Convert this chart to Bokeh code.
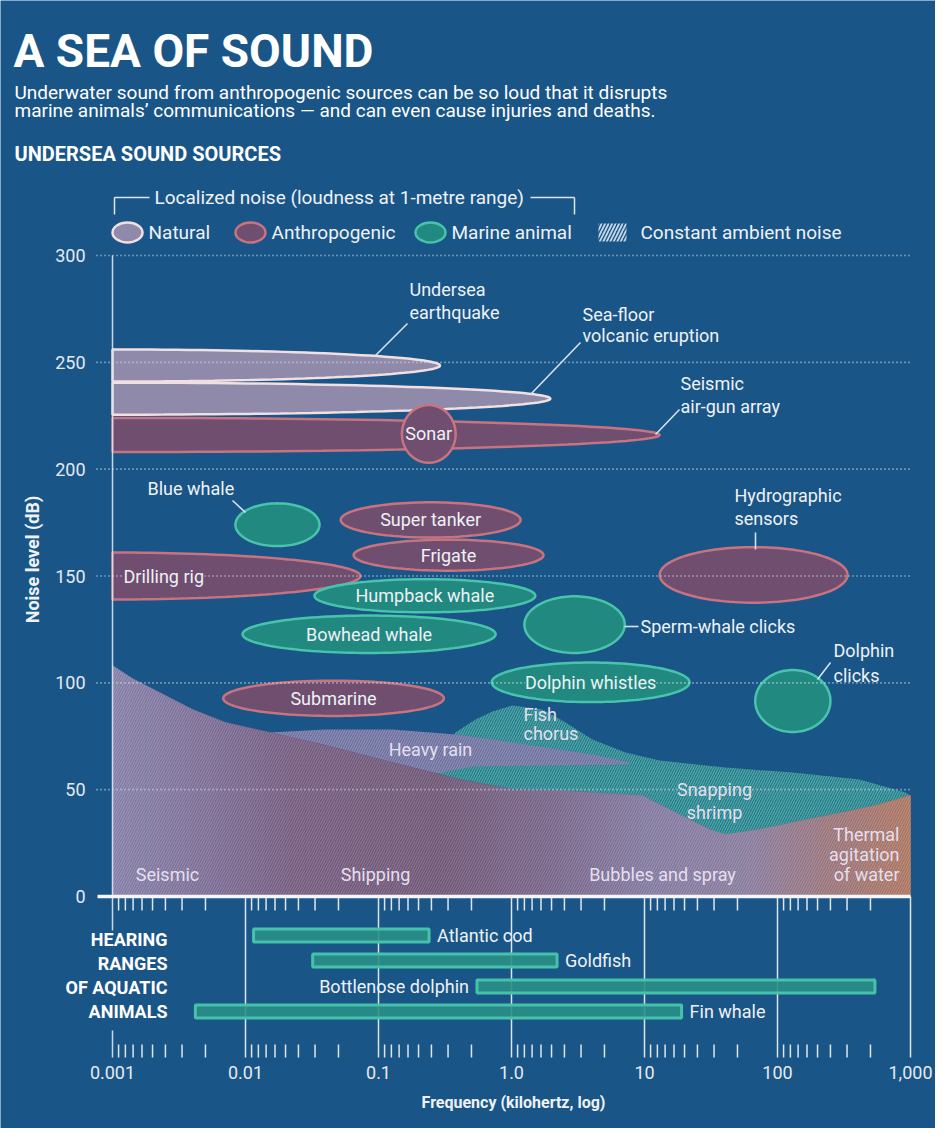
import numpy as np
from bokeh.plotting import figure
from bokeh.models import Label, Range1d
from bokeh.core.properties import value
from bokeh.embed import file_html
from bokeh.resources import INLINE

# ------------------------------------------------------------------ data
# Localized noise sources: frequency span (kHz) and loudness span (dB at 1 m)
SRC_NAMES = ["Undersea earthquake", "Sea-floor volcanic eruption", "Seismic air-gun array",
             "Sonar", "Blue whale", "Super tanker", "Frigate", "Drilling rig",
             "Hydrographic sensors", "Humpback whale", "Bowhead whale", "Sperm-whale clicks",
             "Dolphin whistles", "Dolphin clicks", "Submarine"]
SRC_KIND = ["natural", "natural", "anthro", "anthro", "marine", "anthro", "anthro", "anthro",
            "anthro", "marine", "marine", "marine", "marine", "marine", "anthro"]
SRC_F_LO = [0.001, 0.001, 0.001, 0.15, 0.0084, 0.052, 0.065, 0.001,
            13.0, 0.033, 0.0095, 1.25, 0.71, 68.0, 0.0068]
SRC_F_HI = [0.29, 1.96, 13.0, 0.38, 0.036, 1.17, 1.74, 0.073,
            336.0, 1.51, 0.76, 7.1, 21.8, 250.0, 0.31]
SRC_DB_LO = [241, 225.5, 208, 203, 164, 168, 152.5, 139, 137.5, 133, 114, 114, 91, 77, 84.5]
SRC_DB_HI = [256, 240.5, 224, 230, 184, 184.5, 167, 161, 163.5, 148.5, 131.5, 140.5, 109.5, 106, 101]
# sources that start at the lowest frequency shown are drawn as half shapes
SRC_HALF = [True, True, True, False, False, False, False, True,
            False, False, False, False, False, False, False]
SRC_LABEL = ["leader", "leader", "leader", "centre", "leader", "centre", "centre", "left",
             "leader", "centre", "centre", "leader", "centre", "leader", "centre"]

# Constant ambient noise (upper boundary of each band)
AMB_MAIN_F = [0.001, 0.00141, 0.00225, 0.0040, 0.00708, 0.0151, 0.040, 0.127, 0.406, 1.02,
              2.30, 9.66, 17.1, 30.8, 40.6, 73.3, 130, 308, 546, 1000]
AMB_MAIN_DB = [108.1, 102.0, 95.5, 87.5, 81.4, 76.8, 70.7, 62.7, 54.8, 50.1,
               49.6, 47.2, 39.3, 31.4, 29.0, 31.4, 34.6, 39.3, 42.6, 47.3]
AMB_BIO_F = [0.255, 0.379, 0.536, 0.719, 1.02, 1.71, 2.55, 4.06, 7.20, 13.0,
             40.6, 130, 414, 916, 1000]
AMB_BIO_DB = [58.0, 76.8, 82.8, 86.6, 89.4, 87.5, 81.4, 73.5, 67.4, 63.6,
              60.4, 58.0, 54.8, 48.7, 47.3]
AMB_RAIN_F = [0.0151, 0.040, 0.127, 0.379, 0.719, 2.03, 4.06, 7.71,
              7.71, 2.03, 0.509, 0.127, 0.0151]
AMB_RAIN_DB = [76.8, 78.2, 78.2, 75.8, 73.5, 69.3, 66.5, 62.7,
               61.8, 61.3, 60.8, 53.4, 53.4]

# Hearing ranges of aquatic animals (kHz)
HEAR_NAMES = ["Atlantic cod", "Goldfish", "Bottlenose dolphin", "Fin whale"]
HEAR_F_LO = [0.0115, 0.032, 0.55, 0.0042]
HEAR_F_HI = [0.24, 2.2, 540.0, 19.0]
HEAR_LABEL_SIDE = ["right", "right", "left", "right"]

# Axes
Y_TICKS = [0, 50, 100, 150, 200, 250, 300]
Y_TICK_LABELS = ["0", "50", "100", "150", "200", "250", "300"]
X_TICKS = [0.001, 0.01, 0.1, 1, 10, 100, 1000]
X_TICK_LABELS = ["0.001", "0.01", "0.1", "1.0", "10", "100", "1,000"]
# the graphic draws its minor ticks mirrored inside each decade
X_MINOR = [d * 10 / m for d in X_TICKS[:-1] for m in range(2, 10)]

# ------------------------------------------------------------------ layout helpers
X0_PX, DEC_PX = 120.0, 133.0          # page x of 0.001 kHz, pixels per decade
Y0_PX, DB_PX = 904.0, 641.0 / 300.0   # page y of 0 dB, pixels per dB


def fx(px):
    return 10 ** (-3 + (px - X0_PX) / DEC_PX)


def fy(py):
    return (Y0_PX - py) / DB_PX


BG = "#1a5587"
INK = "#eef2f6"
SOFT = "#dde6ef"
FONT = "Roboto"

STYLE = {
    "natural": dict(fill="#8f8aaa", line="#f1dfe2"),
    "anthro": dict(fill="#6f4e70", line="#c97380"),
    "marine": dict(fill="#21897f", line="#47c4ab"),
}

# the frame covers the whole canvas (page x 8..943, y 8..1136)
p = figure(width=935, height=1128, x_axis_type="log", title=None,
           x_range=Range1d(fx(8), fx(943)), y_range=Range1d(fy(1136), fy(8)),
           x_axis_location=None, y_axis_location=None,
           output_backend="svg", toolbar_location=None, min_border=0,
           background_fill_color=BG, border_fill_color=BG, outline_line_color=None)
p.xgrid.visible = False
p.ygrid.visible = False


def lab(x_px, y_px, text, size=18, color=INK, align="left", baseline="middle",
        bold=False, font=FONT, angle=0.0, bg=None, alpha=1.0):
    kw = dict(x=fx(x_px), y=fy(y_px), text=text, text_font=font,
              text_font_size=f"{size}px", text_color=color, text_alpha=alpha,
              text_align=align, text_baseline=baseline,
              text_font_style="bold" if bold else "normal", angle=angle)
    if bg is not None:
        kw.update(background_fill_color=bg, background_fill_alpha=1.0)
    p.add_layout(Label(**kw))


# ------------------------------------------------------------------ ambient noise
# biological band (fish chorus / snapping shrimp)
p.patch(AMB_BIO_F + [1000, AMB_BIO_F[0]], AMB_BIO_DB + [0, 0],
        fill_color="#257788", line_color=None,
        hatch_pattern="/", hatch_color="#7ad8c8", hatch_alpha=0.55,
        hatch_scale=5, hatch_weight=1.1)
# heavy rain
p.patch(AMB_RAIN_F, AMB_RAIN_DB, fill_color="#6a6d9d", line_color=None,
        hatch_pattern="/", hatch_color="#ffffff", hatch_alpha=0.25,
        hatch_scale=5, hatch_weight=1.1)

# seismic / shipping / bubbles / thermal: colour drifts along frequency
STOP_PX = [120, 200, 300, 450, 560, 660, 760, 840, 918]
STOP_RGB = [(130, 124, 165), (122, 108, 150), (113, 88, 124), (108, 82, 114),
            (116, 97, 134), (128, 118, 158), (134, 120, 154), (152, 112, 118), (170, 113, 92)]
lx_main = np.log10(AMB_MAIN_F)
edges = np.array(sorted(set(np.round(np.linspace(-3, 3, 121), 6)) | set(np.round(lx_main, 6))))
tops = np.interp(edges, lx_main, AMB_MAIN_DB)
sx, sy, sc = [], [], []
for i in range(len(edges) - 1):
    a, b = edges[i], edges[i + 1]
    sx.append([10 ** a, 10 ** a, 10 ** b, 10 ** b])
    sy.append([0, tops[i], tops[i + 1], 0])
    mid = X0_PX + ((a + b) / 2 + 3) * DEC_PX
    rgb = [int(round(np.interp(mid, STOP_PX, [c[k] for c in STOP_RGB]))) for k in range(3)]
    sc.append("#%02x%02x%02x" % tuple(rgb))
p.patches(sx, sy, fill_color=sc, line_color=sc, line_width=0.8)
p.patch(AMB_MAIN_F + [1000, 0.001], AMB_MAIN_DB + [0, 0], fill_alpha=0, line_color=None,
        hatch_pattern="/", hatch_color="#ffffff", hatch_alpha=0.2,
        hatch_scale=5, hatch_weight=1.1)

# ------------------------------------------------------------------ localized sources
t_full = np.linspace(0, 2 * np.pi, 121)
t_half = np.linspace(-np.pi / 2, np.pi / 2, 81)
ex, ey, efc, elc = [], [], [], []
for flo, fhi, dlo, dhi, half, kind in zip(SRC_F_LO, SRC_F_HI, SRC_DB_LO, SRC_DB_HI, SRC_HALF, SRC_KIND):
    llo, lhi = np.log10(flo), np.log10(fhi)
    if half:
        c, a, t = llo, lhi - llo, t_half
    else:
        c, a, t = (llo + lhi) / 2, (lhi - llo) / 2, t_full
    yc, b = (dlo + dhi) / 2, (dhi - dlo) / 2
    ex.append(list(10 ** (c + a * np.cos(t))))
    ey.append(list(yc + b * np.sin(t)))
    efc.append(STYLE[kind]["fill"])
    elc.append(STYLE[kind]["line"])
p.patches(ex, ey, fill_color=efc, line_color=elc, line_width=2.5)

# dotted level lines (drawn over the shapes)
GRID = Y_TICKS[1:]
p.segment(x0=[fx(104)] * len(GRID), x1=[X_TICKS[-1]] * len(GRID), y0=GRID, y1=GRID,
          line_color="#d4e0ec", line_width=1.6, line_alpha=0.9, line_dash="1 3")

# axis lines: vertical line at 0.001 kHz, decade lines in the lower panel, base line
p.segment(x0=[X_TICKS[0], X_TICKS[0]], x1=[X_TICKS[0], X_TICKS[0]],
          y0=[Y_TICKS[-1], fy(1038)], y1=[fy(938), fy(1065)],
          line_color=SOFT, line_width=1.5, line_alpha=0.9)
p.segment(x0=X_TICKS[1:], x1=X_TICKS[1:], y0=[0] * 6, y1=[fy(1065)] * 6,
          line_color=SOFT, line_width=1.5)
p.segment(x0=X_MINOR, x1=X_MINOR, y0=[0] * len(X_MINOR), y1=[fy(918)] * len(X_MINOR),
          line_color=SOFT, line_width=1.5)
p.segment(x0=X_MINOR, x1=X_MINOR, y0=[fy(1052)] * len(X_MINOR), y1=[fy(1065)] * len(X_MINOR),
          line_color=SOFT, line_width=1.5)
p.segment(x0=[fx(105)], x1=[X_TICKS[-1]], y0=[0], y1=[0], line_color="#f4f6f8", line_width=3.5)

# tick labels
p.text(x=[fx(93)] * len(Y_TICKS), y=Y_TICKS, text=Y_TICK_LABELS, text_align="right",
       text_baseline="middle", text_font=value(FONT), text_font_size="18px",
       text_color="#e4eaf1")
p.text(x=X_TICKS, y=[fy(1080)] * len(X_TICKS), text=X_TICK_LABELS, text_align="center",
       text_baseline="middle", text_font=value(FONT), text_font_size="18px",
       text_color="#e4eaf1")

# leader lines for the outside labels
LEAD = [(415, 331, 383, 363), (588, 350, 538, 402), (687, 417, 663, 442), (763, 540, 763, 557),
        (632, 634, 646, 634), (838, 670, 825, 687), (240, 508, 253, 520)]
p.segment(x0=[fx(a) for a, _, _, _ in LEAD], y0=[fy(b) for _, b, _, _ in LEAD],
          x1=[fx(c) for _, _, c, _ in LEAD], y1=[fy(d) for _, _, _, d in LEAD],
          line_color="#d6e2ee", line_width=1.6)

# ------------------------------------------------------------------ hearing ranges
HEAR_ROW_PX = [943, 968, 994, 1019]
hear_y = [fy(v) for v in HEAR_ROW_PX]
p.hbar(y=hear_y, left=HEAR_F_LO, right=HEAR_F_HI, height=13 / DB_PX,
       fill_color="#2a8f86", fill_alpha=0.9, line_color="#45c3aa", line_width=3)
for name, lo, hi, yy, side in zip(HEAR_NAMES, HEAR_F_LO, HEAR_F_HI, hear_y, HEAR_LABEL_SIDE):
    p.add_layout(Label(x=hi if side == "right" else lo, y=yy, text=name,
                       x_offset=8 if side == "right" else -8,
                       text_align="left" if side == "right" else "right",
                       text_baseline="middle", text_font=FONT, text_font_size="18px",
                       text_color=INK))

# ------------------------------------------------------------------ legend
p.segment(x0=[fx(122), fx(538), fx(122), fx(582)], x1=[fx(157), fx(582), fx(122), fx(582)],
          y0=[fy(205), fy(205), fy(205), fy(205)], y1=[fy(205), fy(205), fy(222), fy(222)],
          line_color=SOFT, line_width=1.5)
lab(162, 205, "Localized noise (loudness at 1-metre range)", size=19)
LEG_KINDS = ["natural", "anthro", "marine"]
LEG_TEXT = ["Natural", "Anthropogenic", "Marine animal"]
LEG_PX = [135, 258, 438]
p.ellipse(x=[fx(v) for v in LEG_PX], y=[fy(240)] * 3, width=30, height=20,
          width_units="screen", height_units="screen",
          fill_color=[STYLE[k]["fill"] for k in LEG_KINDS],
          line_color=[STYLE[k]["line"] for k in LEG_KINDS], line_width=2.5)
for px, t in zip(LEG_PX, LEG_TEXT):
    lab(px + 21, 240, t, size=19)
p.quad(left=[fx(606)], right=[fx(634)], bottom=[fy(249)], top=[fy(231)],
       fill_alpha=0, line_color=None, hatch_pattern="/", hatch_color="#d6e4f0",
       hatch_alpha=0.9, hatch_scale=7, hatch_weight=1.8)
lab(648, 240, "Constant ambient noise", size=19)

# ------------------------------------------------------------------ labels
for name, kind, flo, fhi, dlo, dhi, how in zip(SRC_NAMES, SRC_KIND, SRC_F_LO, SRC_F_HI,
                                                SRC_DB_LO, SRC_DB_HI, SRC_LABEL):
    if how == "centre":
        p.add_layout(Label(x=np.sqrt(flo * fhi), y=(dlo + dhi) / 2, text=name,
                           text_align="center", text_baseline="middle", text_font=FONT,
                           text_font_size="18px", text_color=INK,
                           background_fill_color=STYLE[kind]["fill"]))
    elif how == "left":
        p.add_layout(Label(x=fx(131), y=(dlo + dhi) / 2, text=name,
                           text_align="left", text_baseline="middle", text_font=FONT,
                           text_font_size="18px", text_color=INK,
                           background_fill_color=STYLE[kind]["fill"]))

OUT_LABELS = [("Undersea", 417, 297), ("earthquake", 417, 320),
              ("Sea-floor", 590, 322), ("volcanic eruption", 590, 343),
              ("Seismic", 688, 391), ("air-gun array", 688, 414),
              ("Hydrographic", 742, 503), ("sensors", 742, 526),
              ("Sperm-whale clicks", 648, 634),
              ("Dolphin", 841, 658), ("clicks", 841, 683),
              ("Blue whale", 155, 496)]
for t, x, y in OUT_LABELS:
    lab(x, y, t)

NOISE_LABELS = [("Seismic", 175, 882, "center"), ("Shipping", 383, 882, "center"),
                ("Bubbles and spray", 670, 882, "center"),
                ("Thermal", 907, 842, "right"), ("agitation", 907, 862, "right"),
                ("of water", 907, 882, "right"),
                ("Heavy rain", 438, 757, "center"), ("Fish", 531, 722, "left"),
                ("chorus", 531, 741, "left"), ("Snapping", 722, 797, "center"),
                ("shrimp", 722, 820, "center")]
for t, x, y, al in NOISE_LABELS:
    lab(x, y, t, color="#e4dfee", align=al)

# titles and side texts
lab(21, 58, "A SEA OF SOUND", size=46, bold=True, color="#ffffff")
lab(22, 100, "Underwater sound from anthropogenic sources can be so loud that it disrupts",
    size=19, color="#ffffff")
lab(22, 118, "marine animals\u2019 communications \u2014 and can even cause injuries and deaths.",
    size=19, color="#ffffff")
lab(22, 161, "UNDERSEA SOUND SOURCES", size=20, bold=True, color="#ffffff")
lab(40, 567, "Noise level (dB)", size=18, bold=True, align="center", angle=np.pi / 2)
for i, t in enumerate(["HEARING", "RANGES", "OF AQUATIC", "ANIMALS"]):
    lab(175, 947 + i * 24, t, size=18, bold=True, align="right", color="#ffffff")
lab(521, 1110, "Frequency (kilohertz, log)", size=16, bold=True, align="center")

open("out.html", "w").write(file_html(p, INLINE))
